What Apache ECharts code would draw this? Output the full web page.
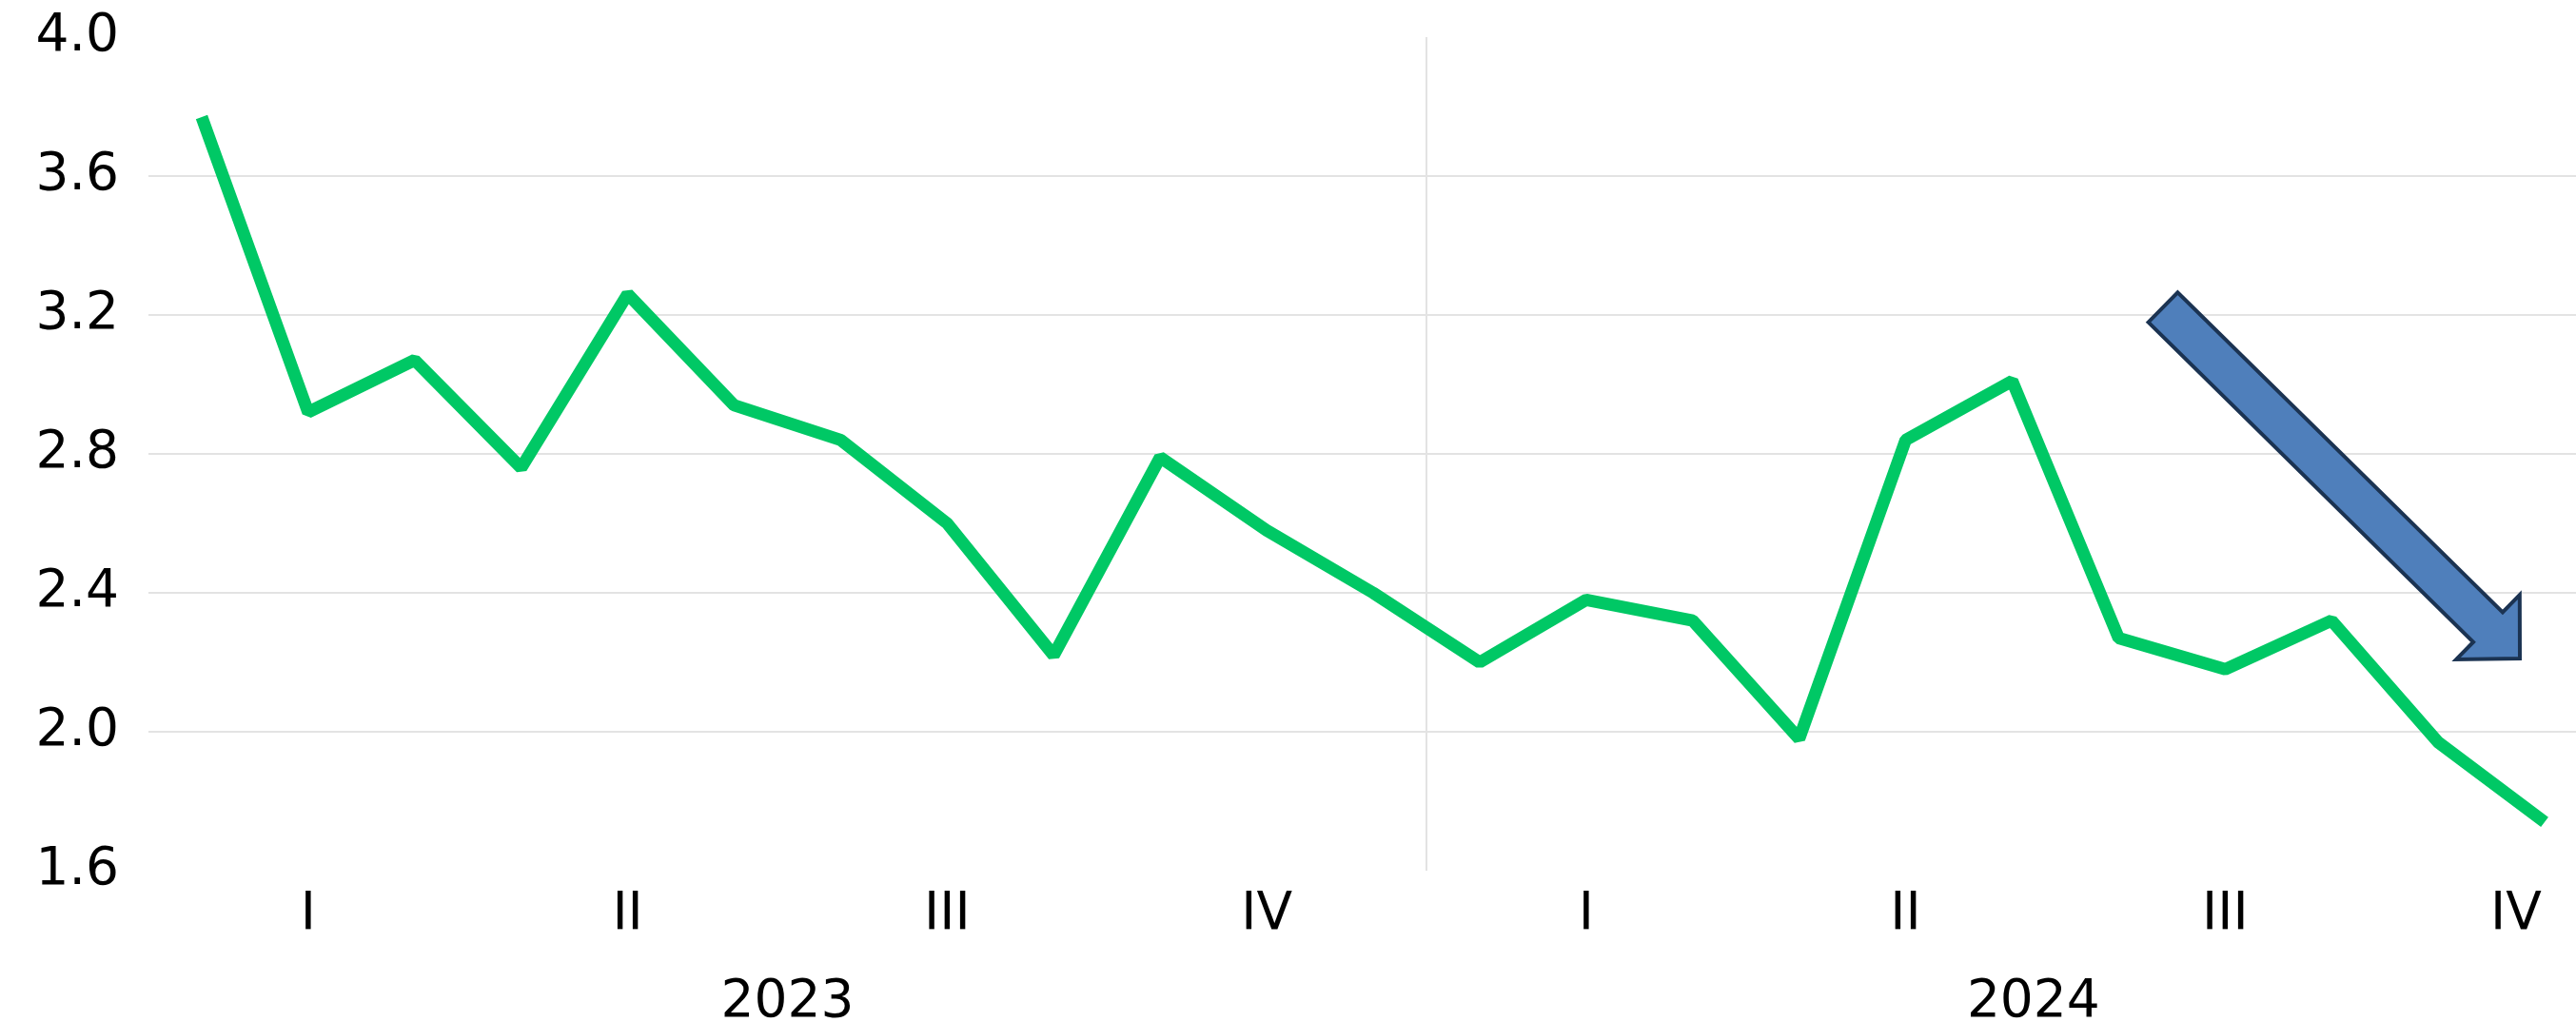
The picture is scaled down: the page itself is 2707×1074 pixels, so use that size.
<!DOCTYPE html>
<html>
<head>
<meta charset="utf-8">
<script src="https://cdn.jsdelivr.net/npm/echarts@6/dist/echarts.min.js"></script>
<style>
    html, body { margin: 0; padding: 0; background: #fff; overflow: hidden; }
    /* 图表比窗口略宽，最后一个月的格子被右边缘截掉 */
    #chart { width: 2730px; height: 1074px; }
</style>
</head>
<body>
<div id="chart"></div>
<script>
// 月份（2023年1月 - 2024年11月）
const months = [
    '2023-01', '2023-02', '2023-03', '2023-04', '2023-05', '2023-06',
    '2023-07', '2023-08', '2023-09', '2023-10', '2023-11', '2023-12',
    '2024-01', '2024-02', '2024-03', '2024-04', '2024-05', '2024-06',
    '2024-07', '2024-08', '2024-09', '2024-10', '2024-11'
];
const values = [
    3.77, 2.92, 3.07, 2.76, 3.26, 2.94, 2.84, 2.60, 2.22, 2.79, 2.58, 2.40,
    2.20, 2.38, 2.32, 1.98, 2.84, 3.01, 2.27, 2.18, 2.32, 1.97, 1.74
];
const quarterLabels = ['I', 'II', 'III', 'IV', 'I', 'II', 'III', 'IV'];
const yearLabels = ['2023', '2024'];
const yTicks = [1.6, 2.0, 2.4, 2.8, 3.2, 3.6, 4.0];

// 年份标签位置（按月份格子计），年份分隔线在第12个月之后
const yearLabelPos = [6, 17.7];
const yearSplit = 12;

const FONT = 'DejaVu Sans';
const FONT_SIZE = 55;
const GRID_COLOR = '#e3e3e3';
const mychart = echarts.init(document.getElementById('chart'));

// 箭头：尾部中心 -> 箭尖（像素）
const arrowCfg = { tail: [2273, 323], tip: [2648, 692], shaftW: 44, headW: 95, headL: 47 };

const arrowPoints = (cfg) => {
    const dx = cfg.tip[0] - cfg.tail[0];
    const dy = cfg.tip[1] - cfg.tail[1];
    const len = Math.sqrt(dx * dx + dy * dy);
    const ux = dx / len, uy = dy / len;
    const nx = -uy, ny = ux;
    const neck = [cfg.tip[0] - ux * cfg.headL, cfg.tip[1] - uy * cfg.headL];
    const p = (base, k) => [base[0] + nx * k, base[1] + ny * k];
    return [
        p(cfg.tail, cfg.shaftW / 2),
        p(neck, cfg.shaftW / 2),
        p(neck, cfg.headW / 2),
        cfg.tip,
        p(neck, -cfg.headW / 2),
        p(neck, -cfg.shaftW / 2),
        p(cfg.tail, -cfg.shaftW / 2)
    ];
};

const labelText = { color: '#000', fontFamily: FONT, fontSize: FONT_SIZE };

mychart.setOption({
    animation: false,
    backgroundColor: '#fff',
    grid: {
        left: 156,
        right: 0,
        top: 39,
        bottom: 159,
        outerBoundsMode: 'none' // 不要自动缩小绘图区
    },
    xAxis: [
        {
            // 季度标签
            type: 'category',
            data: months,
            boundaryGap: true,
            axisLine: { show: false },
            axisTick: { show: false },
            splitLine: { show: false },
            axisLabel: {
                interval: (index) => index % 3 === 1,
                // 最后一个标签往左挪一点，别贴着右边
                formatter: (value, index) => index === months.length - 1
                    ? '{last|' + quarterLabels[Math.floor(index / 3)] + '}'
                    : quarterLabels[Math.floor(index / 3)],
                rich: {
                    last: { ...labelText, padding: [0, 60, 0, 0] }
                },
                ...labelText,
                margin: 19
            }
        },
        {
            // 年份标签（按格子坐标）
            type: 'value',
            min: 0,
            max: months.length,
            position: 'bottom',
            offset: 92,
            axisLine: { show: false },
            axisTick: { show: false },
            splitLine: { show: false },
            axisLabel: {
                customValues: yearLabelPos,
                formatter: (v) => yearLabels[v < yearSplit ? 0 : 1],
                ...labelText,
                margin: 19
            }
        },
        {
            // 年份分隔线
            type: 'value',
            min: 0,
            max: months.length,
            interval: yearSplit,
            position: 'bottom',
            axisLine: { show: false },
            axisTick: { show: false },
            axisLabel: { show: false },
            splitLine: {
                show: true,
                showMinLine: false,
                showMaxLine: false,
                lineStyle: { color: GRID_COLOR, width: 2 }
            }
        }
    ],
    yAxis: {
        type: 'value',
        min: yTicks[0],
        max: yTicks[yTicks.length - 1],
        interval: 0.4,
        axisLine: { show: false },
        axisTick: { show: false },
        axisLabel: {
            formatter: (v) => v.toFixed(1),
            ...labelText,
            margin: 31
        },
        splitLine: {
            show: true,
            showMinLine: false,
            showMaxLine: false,
            lineStyle: { color: GRID_COLOR, width: 2 }
        }
    },
    series: [
        {
            type: 'line',
            xAxisIndex: 0,
            data: values,
            showSymbol: false,
            symbol: 'none',
            lineStyle: { color: '#00c865', width: 13, cap: 'butt', join: 'bevel' }
        }
    ],
    graphic: [
        {
            type: 'polygon',
            shape: { points: arrowPoints(arrowCfg) },
            style: { fill: '#4f7fbb', stroke: '#1b3352', lineWidth: 4 },
            z: 100
        }
    ]
});
</script>
</body>
</html>
